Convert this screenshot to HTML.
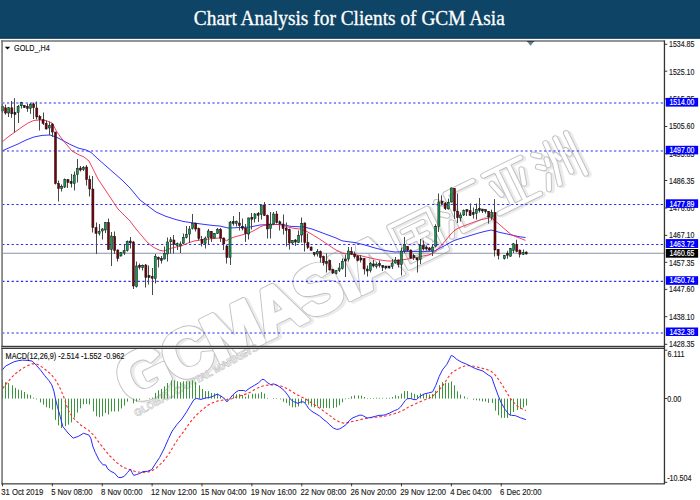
<!DOCTYPE html>
<html><head><meta charset="utf-8"><title>Chart Analysis for Clients of GCM Asia</title>
<style>
html,body{margin:0;padding:0;background:#fff;}
body{width:700px;height:500px;overflow:hidden;position:relative;font-family:"Liberation Sans",sans-serif;}
#hdr{position:absolute;left:0;top:0;width:700px;height:38.6px;background:#0e4465;}
svg{position:absolute;left:0;top:0;}
text{font-family:"Liberation Sans",sans-serif;}
</style></head>
<body>
<svg width="700" height="500" viewBox="0 0 700 500">
<rect x="0" y="0" width="700" height="500" fill="#fff"/>

<g transform="translate(130,407) rotate(-26)" style="font-family:'Liberation Sans',sans-serif;font-weight:bold">
  <text x="2" y="2" font-size="68" fill="none" stroke="#ebebeb" stroke-width="6" stroke-linejoin="round" letter-spacing="-2.5">GCMASIA</text>
  <text x="0" y="0" font-size="68" fill="#fff" stroke="#c2c2c2" stroke-width="5.2" stroke-linejoin="round" letter-spacing="-2.5">GCMASIA</text>
  <text x="0" y="0" font-size="68" fill="#fff" stroke="#fff" stroke-width="3.3" stroke-linejoin="round" letter-spacing="-2.5">GCMASIA</text>
  <g fill="none" stroke-linecap="round" stroke-linejoin="round">
    <path d="M312.0,-48.0 L354.0,-48.0 L354.0,-3.0 L312.0,-3.0 L312.0,-48.0 M322.0,-38.0 L344.0,-38.0 M323.0,-26.0 L343.0,-26.0 M320.0,-13.0 L346.0,-13.0 M333.0,-38.0 L333.0,-13.0 M339.0,-21.0 L342.0,-17.0 M365.0,-50.0 L370.0,-46.0 M364.0,-37.0 L369.0,-33.0 M364.0,-12.0 L370.0,-25.0 M407.0,-53.0 L377.0,-53.0 L377.0,-12.0 L408.0,-12.0 M419.0,-53.0 L460.0,-53.0 M433.0,-53.0 L433.0,-13.0 M446.0,-53.0 L446.0,-13.0 M423.0,-42.0 L427.0,-28.0 M456.0,-42.0 L452.0,-28.0 M417.0,-12.0 L462.0,-12.0 M473.0,-50.0 L478.0,-46.0 M472.0,-37.0 L477.0,-33.0 M472.0,-12.0 L478.0,-25.0 M489.0,-55.0 L489.0,-33.0 L484.0,-12.0 M500.0,-55.0 L500.0,-18.0 M512.0,-55.0 L512.0,-10.0 M493.0,-40.0 L495.0,-35.0 M504.0,-40.0 L506.0,-35.0 M483.0,-40.0 L482.0,-34.0" stroke="#ebebeb" stroke-width="6.5" transform="translate(2,2)"/>
    <path d="M312.0,-48.0 L354.0,-48.0 L354.0,-3.0 L312.0,-3.0 L312.0,-48.0 M322.0,-38.0 L344.0,-38.0 M323.0,-26.0 L343.0,-26.0 M320.0,-13.0 L346.0,-13.0 M333.0,-38.0 L333.0,-13.0 M339.0,-21.0 L342.0,-17.0 M365.0,-50.0 L370.0,-46.0 M364.0,-37.0 L369.0,-33.0 M364.0,-12.0 L370.0,-25.0 M407.0,-53.0 L377.0,-53.0 L377.0,-12.0 L408.0,-12.0 M419.0,-53.0 L460.0,-53.0 M433.0,-53.0 L433.0,-13.0 M446.0,-53.0 L446.0,-13.0 M423.0,-42.0 L427.0,-28.0 M456.0,-42.0 L452.0,-28.0 M417.0,-12.0 L462.0,-12.0 M473.0,-50.0 L478.0,-46.0 M472.0,-37.0 L477.0,-33.0 M472.0,-12.0 L478.0,-25.0 M489.0,-55.0 L489.0,-33.0 L484.0,-12.0 M500.0,-55.0 L500.0,-18.0 M512.0,-55.0 L512.0,-10.0 M493.0,-40.0 L495.0,-35.0 M504.0,-40.0 L506.0,-35.0 M483.0,-40.0 L482.0,-34.0" stroke="#c2c2c2" stroke-width="6.2"/>
    <path d="M312.0,-48.0 L354.0,-48.0 L354.0,-3.0 L312.0,-3.0 L312.0,-48.0 M322.0,-38.0 L344.0,-38.0 M323.0,-26.0 L343.0,-26.0 M320.0,-13.0 L346.0,-13.0 M333.0,-38.0 L333.0,-13.0 M339.0,-21.0 L342.0,-17.0 M365.0,-50.0 L370.0,-46.0 M364.0,-37.0 L369.0,-33.0 M364.0,-12.0 L370.0,-25.0 M407.0,-53.0 L377.0,-53.0 L377.0,-12.0 L408.0,-12.0 M419.0,-53.0 L460.0,-53.0 M433.0,-53.0 L433.0,-13.0 M446.0,-53.0 L446.0,-13.0 M423.0,-42.0 L427.0,-28.0 M456.0,-42.0 L452.0,-28.0 M417.0,-12.0 L462.0,-12.0 M473.0,-50.0 L478.0,-46.0 M472.0,-37.0 L477.0,-33.0 M472.0,-12.0 L478.0,-25.0 M489.0,-55.0 L489.0,-33.0 L484.0,-12.0 M500.0,-55.0 L500.0,-18.0 M512.0,-55.0 L512.0,-10.0 M493.0,-40.0 L495.0,-35.0 M504.0,-40.0 L506.0,-35.0 M483.0,-40.0 L482.0,-34.0" stroke="#fff" stroke-width="4.2"/>
  </g>
  <text x="0" y="0" transform="translate(1.5,11.8) rotate(-2.8)" font-size="10.2" fill="#fff" stroke="#c4c4c4" stroke-width="0.65" letter-spacing="-0.1">GLOBAL CAPITAL MARKETS</text>
</g>

<line x1="3" y1="103.0" x2="664" y2="103.0" stroke="#1c1cff" stroke-width="1.2" stroke-dasharray="2.2 2.47" stroke-dashoffset="0.71" opacity="0.95"/>
<line x1="3" y1="151.0" x2="664" y2="151.0" stroke="#1c1cff" stroke-width="1.2" stroke-dasharray="2.2 2.47" stroke-dashoffset="0.71" opacity="0.95"/>
<line x1="3" y1="204.5" x2="664" y2="204.5" stroke="#1c1cff" stroke-width="1.2" stroke-dasharray="2.2 2.47" stroke-dashoffset="0.71" opacity="0.95"/>
<line x1="3" y1="244.5" x2="664" y2="244.5" stroke="#1c1cff" stroke-width="1.2" stroke-dasharray="2.2 2.47" stroke-dashoffset="0.71" opacity="0.95"/>
<line x1="3" y1="281.3" x2="664" y2="281.3" stroke="#1c1cff" stroke-width="1.2" stroke-dasharray="2.2 2.47" stroke-dashoffset="0.71" opacity="0.95"/>
<line x1="3" y1="333.0" x2="664" y2="333.0" stroke="#1c1cff" stroke-width="1.2" stroke-dasharray="2.2 2.47" stroke-dashoffset="0.71" opacity="0.95"/>
<line x1="3" y1="253.3" x2="664" y2="253.3" stroke="#8793a6" stroke-width="1.1"/>
<polyline points="2.00,151.00 10.00,147.40 18.00,144.00 26.00,140.00 34.00,137.00 42.00,135.40 50.00,135.00 56.00,137.00 62.00,140.00 70.00,144.40 78.00,148.00 86.00,150.00 91.00,152.40 98.00,159.00 106.00,166.00 114.00,173.00 122.00,180.00 130.00,188.00 140.00,200.00 148.00,206.00 156.00,212.00 166.00,216.40 176.00,219.60 184.00,221.60 194.00,223.00 204.00,224.40 214.00,225.60 220.00,226.00 224.00,227.00 228.00,228.00 234.00,227.80 240.00,227.50 250.00,227.00 260.00,225.00 270.00,224.50 280.00,224.50 285.00,225.00 290.00,226.30 296.00,226.60 304.00,227.00 312.00,229.00 320.00,232.00 328.00,235.00 336.00,238.00 342.00,240.80 348.00,241.70 355.00,242.60 365.00,245.00 375.00,248.00 385.00,250.50 395.00,252.00 405.00,251.60 410.00,251.40 416.00,251.40 426.00,251.40 434.00,251.20 440.00,248.00 445.00,245.50 450.00,242.60 455.00,240.20 460.00,238.60 466.00,236.80 472.00,235.00 478.00,233.20 484.00,231.60 491.00,230.00 495.00,231.00 500.00,232.50 505.00,233.50 510.00,234.70 515.00,235.80 520.00,236.80 525.50,237.50" fill="none" stroke="#2828ff" stroke-width="0.95" stroke-linejoin="round"/>
<polyline points="2.00,142.00 8.00,137.00 15.00,132.00 22.00,127.00 28.00,123.00 34.00,120.40 40.00,120.00 46.00,120.60 52.00,123.00 57.00,132.00 62.00,139.00 67.00,145.00 72.00,151.00 78.00,154.40 84.00,157.00 89.00,161.00 93.00,169.00 98.00,179.00 104.00,188.00 112.00,200.00 118.00,209.00 124.00,215.00 130.00,221.00 136.00,229.00 142.00,236.00 148.00,243.00 154.00,247.60 160.00,250.40 164.00,251.00 170.00,248.60 176.00,247.00 182.00,245.60 188.00,243.00 194.00,241.00 200.00,240.00 206.00,239.40 212.00,238.60 220.00,238.00 224.00,239.20 226.50,240.80 230.00,238.60 236.00,236.50 240.00,235.50 245.00,234.00 250.00,232.50 255.00,230.00 260.00,227.00 264.00,225.40 270.00,225.00 276.00,224.40 282.00,225.00 288.00,227.00 294.00,228.40 300.00,229.00 306.00,231.00 312.00,234.40 318.00,238.00 324.00,242.00 330.00,246.00 336.00,250.00 342.00,253.00 348.00,254.00 354.00,254.60 360.00,255.50 366.00,257.00 372.00,258.40 380.00,260.00 388.00,261.00 394.00,261.00 400.00,260.00 406.00,259.30 412.00,258.30 418.00,257.20 424.00,255.80 430.00,254.60 434.00,252.50 440.00,246.80 446.00,240.00 450.00,235.00 454.00,230.80 458.00,228.30 464.00,225.80 472.00,222.80 480.00,220.00 486.00,218.60 490.00,217.80 492.00,217.80 495.00,221.00 498.00,223.20 502.00,226.80 506.00,230.20 511.00,234.40 515.00,236.40 520.00,238.20 525.50,240.40" fill="none" stroke="#ee2a48" stroke-width="0.9" stroke-linejoin="round"/>
<line x1="2.50" y1="104" x2="2.50" y2="113" stroke="#484848" stroke-width="1"/>
<rect x="1.48" y="106.3" width="2.05" height="4.70" fill="#119a52" stroke="#111" stroke-width="0.5"/>
<line x1="5.50" y1="104.6" x2="5.50" y2="114.6" stroke="#484848" stroke-width="1"/>
<rect x="4.59" y="107.8" width="2.05" height="5.20" fill="#780008" stroke="#111" stroke-width="0.5"/>
<line x1="8.50" y1="107" x2="8.50" y2="117" stroke="#484848" stroke-width="1"/>
<rect x="7.71" y="107.8" width="2.05" height="5.20" fill="#119a52" stroke="#111" stroke-width="0.5"/>
<line x1="11.50" y1="101" x2="11.50" y2="117.8" stroke="#484848" stroke-width="1"/>
<rect x="10.83" y="107.8" width="2.05" height="6.00" fill="#780008" stroke="#111" stroke-width="0.5"/>
<line x1="14.50" y1="98.2" x2="14.50" y2="132.6" stroke="#484848" stroke-width="1"/>
<rect x="13.94" y="112.4" width="2.05" height="2.00" fill="#222" stroke="#111" stroke-width="0.5"/>
<line x1="18.50" y1="105" x2="18.50" y2="123" stroke="#484848" stroke-width="1"/>
<rect x="17.06" y="106.2" width="2.05" height="6.40" fill="#119a52" stroke="#111" stroke-width="0.5"/>
<line x1="21.50" y1="101.8" x2="21.50" y2="108.6" stroke="#484848" stroke-width="1"/>
<rect x="20.18" y="102.6" width="2.05" height="3.20" fill="#119a52" stroke="#111" stroke-width="0.5"/>
<line x1="24.50" y1="105" x2="24.50" y2="107.8" stroke="#484848" stroke-width="1"/>
<rect x="23.29" y="105.6" width="2.05" height="2.00" fill="#222" stroke="#111" stroke-width="0.5"/>
<line x1="27.50" y1="103.8" x2="27.50" y2="111.8" stroke="#484848" stroke-width="1"/>
<rect x="26.41" y="106.4" width="2.05" height="2.00" fill="#780008" stroke="#111" stroke-width="0.5"/>
<line x1="30.50" y1="103" x2="30.50" y2="113.8" stroke="#484848" stroke-width="1"/>
<rect x="29.53" y="104.2" width="2.05" height="4.10" fill="#119a52" stroke="#111" stroke-width="0.5"/>
<line x1="33.50" y1="102.5" x2="33.50" y2="119" stroke="#484848" stroke-width="1"/>
<rect x="32.65" y="103.9" width="2.05" height="3.80" fill="#780008" stroke="#111" stroke-width="0.5"/>
<line x1="36.50" y1="101.5" x2="36.50" y2="119.5" stroke="#484848" stroke-width="1"/>
<rect x="35.76" y="108" width="2.05" height="9.00" fill="#780008" stroke="#111" stroke-width="0.5"/>
<line x1="39.50" y1="115" x2="39.50" y2="130.5" stroke="#484848" stroke-width="1"/>
<rect x="38.88" y="116.5" width="2.05" height="3.00" fill="#780008" stroke="#111" stroke-width="0.5"/>
<line x1="43.50" y1="112.5" x2="43.50" y2="125" stroke="#484848" stroke-width="1"/>
<rect x="42.00" y="119.5" width="2.05" height="4.00" fill="#780008" stroke="#111" stroke-width="0.5"/>
<line x1="46.50" y1="120.5" x2="46.50" y2="129.5" stroke="#484848" stroke-width="1"/>
<rect x="45.11" y="123.5" width="2.05" height="5.50" fill="#780008" stroke="#111" stroke-width="0.5"/>
<line x1="49.50" y1="121.5" x2="49.50" y2="135" stroke="#484848" stroke-width="1"/>
<rect x="48.23" y="125.5" width="2.05" height="2.50" fill="#119a52" stroke="#111" stroke-width="0.5"/>
<line x1="52.50" y1="123" x2="52.50" y2="137" stroke="#484848" stroke-width="1"/>
<rect x="51.35" y="124" width="2.05" height="8.00" fill="#780008" stroke="#111" stroke-width="0.5"/>
<line x1="55.50" y1="132" x2="55.50" y2="184.5" stroke="#484848" stroke-width="1"/>
<rect x="54.46" y="132" width="2.05" height="51.50" fill="#780008" stroke="#111" stroke-width="0.5"/>
<line x1="58.50" y1="180.5" x2="58.50" y2="201.5" stroke="#484848" stroke-width="1"/>
<rect x="57.58" y="183.5" width="2.05" height="5.00" fill="#780008" stroke="#111" stroke-width="0.5"/>
<line x1="61.50" y1="184.5" x2="61.50" y2="191.5" stroke="#484848" stroke-width="1"/>
<rect x="60.70" y="186.5" width="2.05" height="2.00" fill="#119a52" stroke="#111" stroke-width="0.5"/>
<line x1="64.50" y1="178.5" x2="64.50" y2="188" stroke="#484848" stroke-width="1"/>
<rect x="63.82" y="179.5" width="2.05" height="7.50" fill="#119a52" stroke="#111" stroke-width="0.5"/>
<line x1="67.50" y1="179" x2="67.50" y2="188" stroke="#484848" stroke-width="1"/>
<rect x="66.93" y="179.5" width="2.05" height="3.00" fill="#780008" stroke="#111" stroke-width="0.5"/>
<line x1="71.50" y1="174" x2="71.50" y2="187.5" stroke="#484848" stroke-width="1"/>
<rect x="70.05" y="181.5" width="2.05" height="2.00" fill="#222" stroke="#111" stroke-width="0.5"/>
<line x1="74.50" y1="171.5" x2="74.50" y2="190.5" stroke="#484848" stroke-width="1"/>
<rect x="73.17" y="175" width="2.05" height="8.50" fill="#119a52" stroke="#111" stroke-width="0.5"/>
<line x1="77.50" y1="159" x2="77.50" y2="182.5" stroke="#484848" stroke-width="1"/>
<rect x="76.28" y="168.5" width="2.05" height="6.00" fill="#119a52" stroke="#111" stroke-width="0.5"/>
<line x1="80.50" y1="166" x2="80.50" y2="171.5" stroke="#484848" stroke-width="1"/>
<rect x="79.40" y="168" width="2.05" height="2.00" fill="#780008" stroke="#111" stroke-width="0.5"/>
<line x1="83.50" y1="166" x2="83.50" y2="171" stroke="#484848" stroke-width="1"/>
<rect x="82.52" y="167.5" width="2.05" height="2.00" fill="#119a52" stroke="#111" stroke-width="0.5"/>
<line x1="86.50" y1="165" x2="86.50" y2="185.5" stroke="#484848" stroke-width="1"/>
<rect x="85.63" y="167" width="2.05" height="12.50" fill="#780008" stroke="#111" stroke-width="0.5"/>
<line x1="89.50" y1="175.5" x2="89.50" y2="196.5" stroke="#484848" stroke-width="1"/>
<rect x="88.75" y="179.5" width="2.05" height="9.50" fill="#780008" stroke="#111" stroke-width="0.5"/>
<line x1="92.50" y1="176" x2="92.50" y2="232.5" stroke="#484848" stroke-width="1"/>
<rect x="91.87" y="189" width="2.05" height="38.50" fill="#780008" stroke="#111" stroke-width="0.5"/>
<line x1="96.50" y1="222.5" x2="96.50" y2="254" stroke="#484848" stroke-width="1"/>
<rect x="94.98" y="227.5" width="2.05" height="6.00" fill="#780008" stroke="#111" stroke-width="0.5"/>
<line x1="99.50" y1="224" x2="99.50" y2="235.5" stroke="#484848" stroke-width="1"/>
<rect x="98.10" y="231.5" width="2.05" height="2.00" fill="#119a52" stroke="#111" stroke-width="0.5"/>
<line x1="102.50" y1="228" x2="102.50" y2="239.5" stroke="#484848" stroke-width="1"/>
<rect x="101.22" y="229" width="2.05" height="2.00" fill="#119a52" stroke="#111" stroke-width="0.5"/>
<line x1="105.50" y1="222" x2="105.50" y2="233" stroke="#484848" stroke-width="1"/>
<rect x="104.34" y="222.5" width="2.05" height="7.50" fill="#119a52" stroke="#111" stroke-width="0.5"/>
<line x1="108.50" y1="218.5" x2="108.50" y2="250" stroke="#484848" stroke-width="1"/>
<rect x="107.45" y="222.5" width="2.05" height="27.00" fill="#780008" stroke="#111" stroke-width="0.5"/>
<line x1="111.50" y1="232" x2="111.50" y2="266" stroke="#484848" stroke-width="1"/>
<rect x="110.57" y="236" width="2.05" height="13.50" fill="#119a52" stroke="#111" stroke-width="0.5"/>
<line x1="114.50" y1="231.5" x2="114.50" y2="254" stroke="#484848" stroke-width="1"/>
<rect x="113.69" y="236.5" width="2.05" height="14.00" fill="#780008" stroke="#111" stroke-width="0.5"/>
<line x1="117.50" y1="249.5" x2="117.50" y2="261.5" stroke="#484848" stroke-width="1"/>
<rect x="116.80" y="250" width="2.05" height="8.50" fill="#780008" stroke="#111" stroke-width="0.5"/>
<line x1="120.50" y1="252" x2="120.50" y2="256.5" stroke="#484848" stroke-width="1"/>
<rect x="119.92" y="252.5" width="2.05" height="3.50" fill="#119a52" stroke="#111" stroke-width="0.5"/>
<line x1="124.50" y1="245" x2="124.50" y2="255" stroke="#484848" stroke-width="1"/>
<rect x="123.04" y="250.5" width="2.05" height="2.50" fill="#119a52" stroke="#111" stroke-width="0.5"/>
<line x1="127.50" y1="240.5" x2="127.50" y2="251.5" stroke="#484848" stroke-width="1"/>
<rect x="126.16" y="241.5" width="2.05" height="9.00" fill="#119a52" stroke="#111" stroke-width="0.5"/>
<line x1="130.50" y1="237" x2="130.50" y2="248.5" stroke="#484848" stroke-width="1"/>
<rect x="129.27" y="241.0" width="2.05" height="2.00" fill="#222" stroke="#111" stroke-width="0.5"/>
<line x1="133.50" y1="241" x2="133.50" y2="289" stroke="#484848" stroke-width="1"/>
<rect x="132.39" y="242" width="2.05" height="44.00" fill="#780008" stroke="#111" stroke-width="0.5"/>
<line x1="136.50" y1="261.5" x2="136.50" y2="287.5" stroke="#484848" stroke-width="1"/>
<rect x="135.51" y="266" width="2.05" height="20.50" fill="#119a52" stroke="#111" stroke-width="0.5"/>
<line x1="139.50" y1="263.5" x2="139.50" y2="269.5" stroke="#484848" stroke-width="1"/>
<rect x="138.62" y="265.25" width="2.05" height="2.00" fill="#780008" stroke="#111" stroke-width="0.5"/>
<line x1="142.50" y1="264.5" x2="142.50" y2="270.5" stroke="#484848" stroke-width="1"/>
<rect x="141.74" y="265.35" width="2.05" height="2.00" fill="#119a52" stroke="#111" stroke-width="0.5"/>
<line x1="145.50" y1="264" x2="145.50" y2="287.5" stroke="#484848" stroke-width="1"/>
<rect x="144.86" y="265" width="2.05" height="12.50" fill="#780008" stroke="#111" stroke-width="0.5"/>
<line x1="148.50" y1="265.5" x2="148.50" y2="284.5" stroke="#484848" stroke-width="1"/>
<rect x="147.97" y="275.5" width="2.05" height="2.00" fill="#222" stroke="#111" stroke-width="0.5"/>
<line x1="152.50" y1="268" x2="152.50" y2="295" stroke="#484848" stroke-width="1"/>
<rect x="151.09" y="276.25" width="2.05" height="2.00" fill="#780008" stroke="#111" stroke-width="0.5"/>
<line x1="155.50" y1="254" x2="155.50" y2="283.5" stroke="#484848" stroke-width="1"/>
<rect x="154.21" y="256.5" width="2.05" height="22.00" fill="#119a52" stroke="#111" stroke-width="0.5"/>
<line x1="158.50" y1="256.5" x2="158.50" y2="267.5" stroke="#484848" stroke-width="1"/>
<rect x="157.32" y="257.25" width="2.05" height="2.00" fill="#780008" stroke="#111" stroke-width="0.5"/>
<line x1="161.50" y1="256" x2="161.50" y2="263.5" stroke="#484848" stroke-width="1"/>
<rect x="160.44" y="258.5" width="2.05" height="2.00" fill="#222" stroke="#111" stroke-width="0.5"/>
<line x1="164.50" y1="246.5" x2="164.50" y2="259.5" stroke="#484848" stroke-width="1"/>
<rect x="163.56" y="253.5" width="2.05" height="5.50" fill="#119a52" stroke="#111" stroke-width="0.5"/>
<line x1="167.50" y1="237.5" x2="167.50" y2="261.5" stroke="#484848" stroke-width="1"/>
<rect x="166.68" y="242" width="2.05" height="12.00" fill="#119a52" stroke="#111" stroke-width="0.5"/>
<line x1="170.50" y1="237" x2="170.50" y2="253.5" stroke="#484848" stroke-width="1"/>
<rect x="169.79" y="239.75" width="2.05" height="2.00" fill="#119a52" stroke="#111" stroke-width="0.5"/>
<line x1="173.50" y1="235" x2="173.50" y2="253.5" stroke="#484848" stroke-width="1"/>
<rect x="172.91" y="240" width="2.05" height="4.50" fill="#780008" stroke="#111" stroke-width="0.5"/>
<line x1="177.50" y1="242.5" x2="177.50" y2="250" stroke="#484848" stroke-width="1"/>
<rect x="176.03" y="243.5" width="2.05" height="2.00" fill="#119a52" stroke="#111" stroke-width="0.5"/>
<line x1="180.50" y1="241.5" x2="180.50" y2="253" stroke="#484848" stroke-width="1"/>
<rect x="179.14" y="244" width="2.05" height="2.00" fill="#119a52" stroke="#111" stroke-width="0.5"/>
<line x1="183.50" y1="233.5" x2="183.50" y2="244" stroke="#484848" stroke-width="1"/>
<rect x="182.26" y="237.5" width="2.05" height="6.00" fill="#119a52" stroke="#111" stroke-width="0.5"/>
<line x1="186.50" y1="226" x2="186.50" y2="238.5" stroke="#484848" stroke-width="1"/>
<rect x="185.38" y="234.5" width="2.05" height="3.00" fill="#119a52" stroke="#111" stroke-width="0.5"/>
<line x1="189.50" y1="226" x2="189.50" y2="243" stroke="#484848" stroke-width="1"/>
<rect x="188.50" y="229" width="2.05" height="5.00" fill="#119a52" stroke="#111" stroke-width="0.5"/>
<line x1="192.50" y1="214" x2="192.50" y2="229.5" stroke="#484848" stroke-width="1"/>
<rect x="191.61" y="223.5" width="2.05" height="5.00" fill="#119a52" stroke="#111" stroke-width="0.5"/>
<line x1="195.50" y1="222.5" x2="195.50" y2="231.5" stroke="#484848" stroke-width="1"/>
<rect x="194.73" y="223.5" width="2.05" height="5.50" fill="#780008" stroke="#111" stroke-width="0.5"/>
<line x1="198.50" y1="227.5" x2="198.50" y2="240.5" stroke="#484848" stroke-width="1"/>
<rect x="197.85" y="228.5" width="2.05" height="10.00" fill="#780008" stroke="#111" stroke-width="0.5"/>
<line x1="201.50" y1="236" x2="201.50" y2="246.5" stroke="#484848" stroke-width="1"/>
<rect x="200.96" y="239.5" width="2.05" height="4.00" fill="#780008" stroke="#111" stroke-width="0.5"/>
<line x1="205.50" y1="236.5" x2="205.50" y2="248.5" stroke="#484848" stroke-width="1"/>
<rect x="204.08" y="238" width="2.05" height="5.50" fill="#119a52" stroke="#111" stroke-width="0.5"/>
<line x1="208.50" y1="229" x2="208.50" y2="244.5" stroke="#484848" stroke-width="1"/>
<rect x="207.20" y="231" width="2.05" height="6.50" fill="#119a52" stroke="#111" stroke-width="0.5"/>
<line x1="211.50" y1="231" x2="211.50" y2="242" stroke="#484848" stroke-width="1"/>
<rect x="210.31" y="231.5" width="2.05" height="6.50" fill="#780008" stroke="#111" stroke-width="0.5"/>
<line x1="214.50" y1="233" x2="214.50" y2="238.5" stroke="#484848" stroke-width="1"/>
<rect x="213.43" y="233.5" width="2.05" height="4.50" fill="#119a52" stroke="#111" stroke-width="0.5"/>
<line x1="217.50" y1="228" x2="217.50" y2="234" stroke="#484848" stroke-width="1"/>
<rect x="216.55" y="229.5" width="2.05" height="4.00" fill="#119a52" stroke="#111" stroke-width="0.5"/>
<line x1="220.50" y1="228" x2="220.50" y2="242" stroke="#484848" stroke-width="1"/>
<rect x="219.66" y="229.5" width="2.05" height="8.50" fill="#780008" stroke="#111" stroke-width="0.5"/>
<line x1="223.50" y1="237.5" x2="223.50" y2="250" stroke="#484848" stroke-width="1"/>
<rect x="222.78" y="238" width="2.05" height="6.00" fill="#780008" stroke="#111" stroke-width="0.5"/>
<line x1="226.50" y1="245" x2="226.50" y2="263.5" stroke="#484848" stroke-width="1"/>
<rect x="225.90" y="246" width="2.05" height="11.50" fill="#780008" stroke="#111" stroke-width="0.5"/>
<line x1="230.50" y1="221" x2="230.50" y2="265" stroke="#484848" stroke-width="1"/>
<rect x="229.02" y="222" width="2.05" height="35.50" fill="#119a52" stroke="#111" stroke-width="0.5"/>
<line x1="233.50" y1="216" x2="233.50" y2="225.5" stroke="#484848" stroke-width="1"/>
<rect x="232.13" y="221.5" width="2.05" height="2.00" fill="#222" stroke="#111" stroke-width="0.5"/>
<line x1="236.50" y1="220.5" x2="236.50" y2="226.5" stroke="#484848" stroke-width="1"/>
<rect x="235.25" y="221.5" width="2.05" height="2.00" fill="#119a52" stroke="#111" stroke-width="0.5"/>
<line x1="239.50" y1="212" x2="239.50" y2="230.5" stroke="#484848" stroke-width="1"/>
<rect x="238.37" y="223" width="2.05" height="2.50" fill="#780008" stroke="#111" stroke-width="0.5"/>
<line x1="242.50" y1="218.5" x2="242.50" y2="230.5" stroke="#484848" stroke-width="1"/>
<rect x="241.48" y="226.3" width="2.05" height="2.00" fill="#222" stroke="#111" stroke-width="0.5"/>
<line x1="245.50" y1="224" x2="245.50" y2="242" stroke="#484848" stroke-width="1"/>
<rect x="244.60" y="228" width="2.05" height="5.50" fill="#780008" stroke="#111" stroke-width="0.5"/>
<line x1="248.50" y1="217.5" x2="248.50" y2="239.5" stroke="#484848" stroke-width="1"/>
<rect x="247.72" y="218" width="2.05" height="16.00" fill="#119a52" stroke="#111" stroke-width="0.5"/>
<line x1="251.50" y1="213" x2="251.50" y2="229.5" stroke="#484848" stroke-width="1"/>
<rect x="250.84" y="217.25" width="2.05" height="2.00" fill="#222" stroke="#111" stroke-width="0.5"/>
<line x1="254.50" y1="213" x2="254.50" y2="222.5" stroke="#484848" stroke-width="1"/>
<rect x="253.95" y="214" width="2.05" height="4.50" fill="#119a52" stroke="#111" stroke-width="0.5"/>
<line x1="258.50" y1="212" x2="258.50" y2="222" stroke="#484848" stroke-width="1"/>
<rect x="257.07" y="213.3" width="2.05" height="2.00" fill="#222" stroke="#111" stroke-width="0.5"/>
<line x1="261.50" y1="204.5" x2="261.50" y2="219.5" stroke="#484848" stroke-width="1"/>
<rect x="260.19" y="205" width="2.05" height="9.50" fill="#119a52" stroke="#111" stroke-width="0.5"/>
<line x1="264.50" y1="202" x2="264.50" y2="216" stroke="#484848" stroke-width="1"/>
<rect x="263.30" y="205" width="2.05" height="10.50" fill="#780008" stroke="#111" stroke-width="0.5"/>
<line x1="267.50" y1="214.5" x2="267.50" y2="238.5" stroke="#484848" stroke-width="1"/>
<rect x="266.42" y="215.5" width="2.05" height="13.50" fill="#780008" stroke="#111" stroke-width="0.5"/>
<line x1="270.50" y1="212" x2="270.50" y2="238.5" stroke="#484848" stroke-width="1"/>
<rect x="269.54" y="224" width="2.05" height="4.50" fill="#119a52" stroke="#111" stroke-width="0.5"/>
<line x1="273.50" y1="212" x2="273.50" y2="225" stroke="#484848" stroke-width="1"/>
<rect x="272.65" y="214" width="2.05" height="10.00" fill="#119a52" stroke="#111" stroke-width="0.5"/>
<line x1="276.50" y1="211" x2="276.50" y2="223.5" stroke="#484848" stroke-width="1"/>
<rect x="275.77" y="214" width="2.05" height="8.50" fill="#780008" stroke="#111" stroke-width="0.5"/>
<line x1="279.50" y1="220.5" x2="279.50" y2="230.5" stroke="#484848" stroke-width="1"/>
<rect x="278.89" y="221.75" width="2.05" height="2.00" fill="#222" stroke="#111" stroke-width="0.5"/>
<line x1="283.50" y1="214.5" x2="283.50" y2="234.5" stroke="#484848" stroke-width="1"/>
<rect x="282.00" y="224" width="2.05" height="4.50" fill="#780008" stroke="#111" stroke-width="0.5"/>
<line x1="286.50" y1="222.5" x2="286.50" y2="246.5" stroke="#484848" stroke-width="1"/>
<rect x="285.12" y="228" width="2.05" height="2.50" fill="#780008" stroke="#111" stroke-width="0.5"/>
<line x1="289.50" y1="228.5" x2="289.50" y2="249.5" stroke="#484848" stroke-width="1"/>
<rect x="288.24" y="229.5" width="2.05" height="13.50" fill="#780008" stroke="#111" stroke-width="0.5"/>
<line x1="292.50" y1="240" x2="292.50" y2="244" stroke="#484848" stroke-width="1"/>
<rect x="291.36" y="240.5" width="2.05" height="2.50" fill="#119a52" stroke="#111" stroke-width="0.5"/>
<line x1="295.50" y1="239" x2="295.50" y2="246" stroke="#484848" stroke-width="1"/>
<rect x="294.47" y="240.0" width="2.05" height="2.00" fill="#222" stroke="#111" stroke-width="0.5"/>
<line x1="298.50" y1="230.5" x2="298.50" y2="243" stroke="#484848" stroke-width="1"/>
<rect x="297.59" y="235.5" width="2.05" height="7.00" fill="#119a52" stroke="#111" stroke-width="0.5"/>
<line x1="301.50" y1="217.5" x2="301.50" y2="242.5" stroke="#484848" stroke-width="1"/>
<rect x="300.71" y="223.5" width="2.05" height="11.50" fill="#119a52" stroke="#111" stroke-width="0.5"/>
<line x1="304.50" y1="222.5" x2="304.50" y2="251.5" stroke="#484848" stroke-width="1"/>
<rect x="303.82" y="223" width="2.05" height="19.50" fill="#780008" stroke="#111" stroke-width="0.5"/>
<line x1="307.50" y1="233.5" x2="307.50" y2="249" stroke="#484848" stroke-width="1"/>
<rect x="306.94" y="242.5" width="2.05" height="5.00" fill="#780008" stroke="#111" stroke-width="0.5"/>
<line x1="311.50" y1="246.5" x2="311.50" y2="250.5" stroke="#484848" stroke-width="1"/>
<rect x="310.06" y="247" width="2.05" height="3.50" fill="#780008" stroke="#111" stroke-width="0.5"/>
<line x1="314.50" y1="252.5" x2="314.50" y2="256.5" stroke="#484848" stroke-width="1"/>
<rect x="313.18" y="252.5" width="2.05" height="2.00" fill="#222" stroke="#111" stroke-width="0.5"/>
<line x1="317.50" y1="249" x2="317.50" y2="256.5" stroke="#484848" stroke-width="1"/>
<rect x="316.29" y="251.5" width="2.05" height="2.50" fill="#119a52" stroke="#111" stroke-width="0.5"/>
<line x1="320.50" y1="250.5" x2="320.50" y2="262.5" stroke="#484848" stroke-width="1"/>
<rect x="319.41" y="251.5" width="2.05" height="6.00" fill="#780008" stroke="#111" stroke-width="0.5"/>
<line x1="323.50" y1="255.5" x2="323.50" y2="265.5" stroke="#484848" stroke-width="1"/>
<rect x="322.53" y="256.5" width="2.05" height="6.00" fill="#780008" stroke="#111" stroke-width="0.5"/>
<line x1="326.50" y1="253.5" x2="326.50" y2="272.5" stroke="#484848" stroke-width="1"/>
<rect x="325.64" y="261.5" width="2.05" height="2.00" fill="#222" stroke="#111" stroke-width="0.5"/>
<line x1="329.50" y1="259.5" x2="329.50" y2="270.5" stroke="#484848" stroke-width="1"/>
<rect x="328.76" y="260.5" width="2.05" height="9.50" fill="#780008" stroke="#111" stroke-width="0.5"/>
<line x1="332.50" y1="269" x2="332.50" y2="274" stroke="#484848" stroke-width="1"/>
<rect x="331.88" y="269.5" width="2.05" height="3.50" fill="#780008" stroke="#111" stroke-width="0.5"/>
<line x1="336.50" y1="270" x2="336.50" y2="274.5" stroke="#484848" stroke-width="1"/>
<rect x="334.99" y="270.5" width="2.05" height="3.00" fill="#119a52" stroke="#111" stroke-width="0.5"/>
<line x1="339.50" y1="263" x2="339.50" y2="272" stroke="#484848" stroke-width="1"/>
<rect x="338.11" y="268" width="2.05" height="2.50" fill="#119a52" stroke="#111" stroke-width="0.5"/>
<line x1="342.50" y1="258.5" x2="342.50" y2="269.5" stroke="#484848" stroke-width="1"/>
<rect x="341.23" y="261.5" width="2.05" height="7.00" fill="#119a52" stroke="#111" stroke-width="0.5"/>
<line x1="345.50" y1="254.5" x2="345.50" y2="277" stroke="#484848" stroke-width="1"/>
<rect x="344.35" y="259.0" width="2.05" height="2.00" fill="#222" stroke="#111" stroke-width="0.5"/>
<line x1="348.50" y1="247" x2="348.50" y2="261.5" stroke="#484848" stroke-width="1"/>
<rect x="347.46" y="251" width="2.05" height="8.00" fill="#119a52" stroke="#111" stroke-width="0.5"/>
<line x1="351.50" y1="247" x2="351.50" y2="255" stroke="#484848" stroke-width="1"/>
<rect x="350.58" y="251.5" width="2.05" height="2.50" fill="#780008" stroke="#111" stroke-width="0.5"/>
<line x1="354.50" y1="251.5" x2="354.50" y2="258.5" stroke="#484848" stroke-width="1"/>
<rect x="353.70" y="254" width="2.05" height="2.50" fill="#780008" stroke="#111" stroke-width="0.5"/>
<line x1="357.50" y1="255" x2="357.50" y2="261.5" stroke="#484848" stroke-width="1"/>
<rect x="356.81" y="256" width="2.05" height="4.50" fill="#780008" stroke="#111" stroke-width="0.5"/>
<line x1="360.50" y1="255" x2="360.50" y2="262.5" stroke="#484848" stroke-width="1"/>
<rect x="359.93" y="258.0" width="2.05" height="2.00" fill="#222" stroke="#111" stroke-width="0.5"/>
<line x1="364.50" y1="258" x2="364.50" y2="274.5" stroke="#484848" stroke-width="1"/>
<rect x="363.05" y="258.5" width="2.05" height="10.50" fill="#780008" stroke="#111" stroke-width="0.5"/>
<line x1="367.50" y1="265.5" x2="367.50" y2="276.5" stroke="#484848" stroke-width="1"/>
<rect x="366.16" y="269.0" width="2.05" height="2.00" fill="#222" stroke="#111" stroke-width="0.5"/>
<line x1="370.50" y1="262" x2="370.50" y2="272.5" stroke="#484848" stroke-width="1"/>
<rect x="369.28" y="263.5" width="2.05" height="7.00" fill="#119a52" stroke="#111" stroke-width="0.5"/>
<line x1="373.50" y1="260" x2="373.50" y2="267.5" stroke="#484848" stroke-width="1"/>
<rect x="372.40" y="264.0" width="2.05" height="2.00" fill="#222" stroke="#111" stroke-width="0.5"/>
<line x1="376.50" y1="262.5" x2="376.50" y2="268.5" stroke="#484848" stroke-width="1"/>
<rect x="375.52" y="264.25" width="2.05" height="2.00" fill="#119a52" stroke="#111" stroke-width="0.5"/>
<line x1="379.50" y1="260.5" x2="379.50" y2="267.5" stroke="#484848" stroke-width="1"/>
<rect x="378.63" y="263.5" width="2.05" height="2.00" fill="#222" stroke="#111" stroke-width="0.5"/>
<line x1="382.50" y1="265" x2="382.50" y2="271" stroke="#484848" stroke-width="1"/>
<rect x="381.75" y="265.5" width="2.05" height="2.00" fill="#222" stroke="#111" stroke-width="0.5"/>
<line x1="385.50" y1="266" x2="385.50" y2="269.5" stroke="#484848" stroke-width="1"/>
<rect x="384.87" y="266.0" width="2.05" height="2.00" fill="#222" stroke="#111" stroke-width="0.5"/>
<line x1="389.50" y1="266" x2="389.50" y2="268.5" stroke="#484848" stroke-width="1"/>
<rect x="387.98" y="266.0" width="2.05" height="2.00" fill="#222" stroke="#111" stroke-width="0.5"/>
<line x1="392.50" y1="259" x2="392.50" y2="269" stroke="#484848" stroke-width="1"/>
<rect x="391.10" y="263" width="2.05" height="3.50" fill="#119a52" stroke="#111" stroke-width="0.5"/>
<line x1="395.50" y1="257" x2="395.50" y2="263.5" stroke="#484848" stroke-width="1"/>
<rect x="394.22" y="260" width="2.05" height="3.00" fill="#119a52" stroke="#111" stroke-width="0.5"/>
<line x1="398.50" y1="259.5" x2="398.50" y2="267.5" stroke="#484848" stroke-width="1"/>
<rect x="397.33" y="260" width="2.05" height="4.50" fill="#780008" stroke="#111" stroke-width="0.5"/>
<line x1="401.50" y1="247.5" x2="401.50" y2="275.5" stroke="#484848" stroke-width="1"/>
<rect x="400.45" y="251" width="2.05" height="13.50" fill="#119a52" stroke="#111" stroke-width="0.5"/>
<line x1="404.50" y1="237" x2="404.50" y2="253" stroke="#484848" stroke-width="1"/>
<rect x="403.57" y="244.5" width="2.05" height="6.50" fill="#119a52" stroke="#111" stroke-width="0.5"/>
<line x1="407.50" y1="246" x2="407.50" y2="251" stroke="#484848" stroke-width="1"/>
<rect x="406.69" y="246.5" width="2.05" height="4.00" fill="#780008" stroke="#111" stroke-width="0.5"/>
<line x1="410.50" y1="249.5" x2="410.50" y2="259" stroke="#484848" stroke-width="1"/>
<rect x="409.80" y="250" width="2.05" height="8.00" fill="#780008" stroke="#111" stroke-width="0.5"/>
<line x1="413.50" y1="254" x2="413.50" y2="260" stroke="#484848" stroke-width="1"/>
<rect x="412.92" y="255.5" width="2.05" height="2.00" fill="#222" stroke="#111" stroke-width="0.5"/>
<line x1="417.50" y1="258" x2="417.50" y2="272.5" stroke="#484848" stroke-width="1"/>
<rect x="416.04" y="257.9" width="2.05" height="2.00" fill="#222" stroke="#111" stroke-width="0.5"/>
<line x1="420.50" y1="239" x2="420.50" y2="264" stroke="#484848" stroke-width="1"/>
<rect x="419.15" y="245.5" width="2.05" height="14.00" fill="#119a52" stroke="#111" stroke-width="0.5"/>
<line x1="423.50" y1="240.5" x2="423.50" y2="250.5" stroke="#484848" stroke-width="1"/>
<rect x="422.27" y="245.5" width="2.05" height="3.50" fill="#780008" stroke="#111" stroke-width="0.5"/>
<line x1="426.50" y1="245.5" x2="426.50" y2="250.5" stroke="#484848" stroke-width="1"/>
<rect x="425.39" y="247.0" width="2.05" height="2.00" fill="#222" stroke="#111" stroke-width="0.5"/>
<line x1="429.50" y1="247" x2="429.50" y2="251" stroke="#484848" stroke-width="1"/>
<rect x="428.50" y="248" width="2.05" height="2.00" fill="#780008" stroke="#111" stroke-width="0.5"/>
<line x1="432.50" y1="245" x2="432.50" y2="256" stroke="#484848" stroke-width="1"/>
<rect x="431.62" y="247" width="2.05" height="4.00" fill="#119a52" stroke="#111" stroke-width="0.5"/>
<line x1="435.50" y1="224.3" x2="435.50" y2="247.4" stroke="#484848" stroke-width="1"/>
<rect x="434.74" y="226.4" width="2.05" height="19.60" fill="#119a52" stroke="#111" stroke-width="0.5"/>
<line x1="438.50" y1="193.5" x2="438.50" y2="232" stroke="#484848" stroke-width="1"/>
<rect x="437.86" y="201.9" width="2.05" height="24.50" fill="#119a52" stroke="#111" stroke-width="0.5"/>
<line x1="441.50" y1="195.3" x2="441.50" y2="205.4" stroke="#484848" stroke-width="1"/>
<rect x="440.97" y="201.2" width="2.05" height="2.10" fill="#780008" stroke="#111" stroke-width="0.5"/>
<line x1="445.50" y1="202" x2="445.50" y2="210" stroke="#484848" stroke-width="1"/>
<rect x="444.09" y="203.4" width="2.05" height="5.30" fill="#780008" stroke="#111" stroke-width="0.5"/>
<line x1="448.50" y1="198.7" x2="448.50" y2="209.6" stroke="#484848" stroke-width="1"/>
<rect x="447.21" y="202.3" width="2.05" height="6.60" fill="#119a52" stroke="#111" stroke-width="0.5"/>
<line x1="451.50" y1="187.5" x2="451.50" y2="202.5" stroke="#484848" stroke-width="1"/>
<rect x="450.32" y="188" width="2.05" height="14.00" fill="#119a52" stroke="#111" stroke-width="0.5"/>
<line x1="454.50" y1="188" x2="454.50" y2="219" stroke="#484848" stroke-width="1"/>
<rect x="453.44" y="188.5" width="2.05" height="22.50" fill="#780008" stroke="#111" stroke-width="0.5"/>
<line x1="457.50" y1="193.5" x2="457.50" y2="223" stroke="#484848" stroke-width="1"/>
<rect x="456.56" y="211.3" width="2.05" height="6.40" fill="#780008" stroke="#111" stroke-width="0.5"/>
<line x1="460.50" y1="212.5" x2="460.50" y2="221.5" stroke="#484848" stroke-width="1"/>
<rect x="459.67" y="215" width="2.05" height="3.00" fill="#119a52" stroke="#111" stroke-width="0.5"/>
<line x1="463.50" y1="209.5" x2="463.50" y2="216" stroke="#484848" stroke-width="1"/>
<rect x="462.79" y="210.5" width="2.05" height="4.50" fill="#119a52" stroke="#111" stroke-width="0.5"/>
<line x1="466.50" y1="209.5" x2="466.50" y2="216" stroke="#484848" stroke-width="1"/>
<rect x="465.91" y="209.5" width="2.05" height="2.00" fill="#222" stroke="#111" stroke-width="0.5"/>
<line x1="470.50" y1="203.5" x2="470.50" y2="216" stroke="#484848" stroke-width="1"/>
<rect x="469.03" y="210.5" width="2.05" height="5.00" fill="#780008" stroke="#111" stroke-width="0.5"/>
<line x1="473.50" y1="207.5" x2="473.50" y2="218.5" stroke="#484848" stroke-width="1"/>
<rect x="472.14" y="212.5" width="2.05" height="2.00" fill="#222" stroke="#111" stroke-width="0.5"/>
<line x1="476.50" y1="203.5" x2="476.50" y2="219.5" stroke="#484848" stroke-width="1"/>
<rect x="475.26" y="209.6" width="2.05" height="3.70" fill="#119a52" stroke="#111" stroke-width="0.5"/>
<line x1="479.50" y1="198" x2="479.50" y2="212.5" stroke="#484848" stroke-width="1"/>
<rect x="478.38" y="208.5" width="2.05" height="2.00" fill="#222" stroke="#111" stroke-width="0.5"/>
<line x1="482.50" y1="209" x2="482.50" y2="213" stroke="#484848" stroke-width="1"/>
<rect x="481.49" y="209.0" width="2.05" height="2.00" fill="#222" stroke="#111" stroke-width="0.5"/>
<line x1="485.50" y1="209.5" x2="485.50" y2="213.5" stroke="#484848" stroke-width="1"/>
<rect x="484.61" y="209.5" width="2.05" height="2.00" fill="#222" stroke="#111" stroke-width="0.5"/>
<line x1="488.50" y1="211" x2="488.50" y2="223.6" stroke="#484848" stroke-width="1"/>
<rect x="487.73" y="211.6" width="2.05" height="5.40" fill="#780008" stroke="#111" stroke-width="0.5"/>
<line x1="491.50" y1="209.6" x2="491.50" y2="220" stroke="#484848" stroke-width="1"/>
<rect x="490.84" y="212.4" width="2.05" height="4.90" fill="#119a52" stroke="#111" stroke-width="0.5"/>
<line x1="494.50" y1="199.1" x2="494.50" y2="256.5" stroke="#484848" stroke-width="1"/>
<rect x="493.96" y="212.4" width="2.05" height="37.60" fill="#780008" stroke="#111" stroke-width="0.5"/>
<line x1="498.50" y1="249.2" x2="498.50" y2="259.5" stroke="#484848" stroke-width="1"/>
<rect x="497.08" y="249.5" width="2.05" height="6.00" fill="#780008" stroke="#111" stroke-width="0.5"/>
<line x1="504.50" y1="255" x2="504.50" y2="259.5" stroke="#484848" stroke-width="1"/>
<rect x="503.31" y="255.7" width="2.05" height="3.00" fill="#119a52" stroke="#111" stroke-width="0.5"/>
<line x1="507.50" y1="250.8" x2="507.50" y2="258.7" stroke="#484848" stroke-width="1"/>
<rect x="506.43" y="253.25" width="2.05" height="2.00" fill="#222" stroke="#111" stroke-width="0.5"/>
<line x1="510.50" y1="248" x2="510.50" y2="256.7" stroke="#484848" stroke-width="1"/>
<rect x="509.55" y="248.7" width="2.05" height="7.50" fill="#119a52" stroke="#111" stroke-width="0.5"/>
<line x1="513.50" y1="243" x2="513.50" y2="253" stroke="#484848" stroke-width="1"/>
<rect x="512.66" y="243.8" width="2.05" height="6.60" fill="#119a52" stroke="#111" stroke-width="0.5"/>
<line x1="516.50" y1="239.7" x2="516.50" y2="252.4" stroke="#484848" stroke-width="1"/>
<rect x="515.78" y="244.5" width="2.05" height="7.00" fill="#780008" stroke="#111" stroke-width="0.5"/>
<line x1="519.50" y1="249.5" x2="519.50" y2="257.5" stroke="#484848" stroke-width="1"/>
<rect x="518.90" y="250.1" width="2.05" height="4.10" fill="#780008" stroke="#111" stroke-width="0.5"/>
<line x1="523.50" y1="249.5" x2="523.50" y2="255" stroke="#484848" stroke-width="1"/>
<rect x="522.01" y="252.25" width="2.05" height="2.00" fill="#119a52" stroke="#111" stroke-width="0.5"/>
<line x1="526.50" y1="251.5" x2="526.50" y2="254.5" stroke="#484848" stroke-width="1"/>
<rect x="525.13" y="252.0" width="2.05" height="2.00" fill="#222" stroke="#111" stroke-width="0.5"/>
<line x1="2.50" y1="398.6" x2="2.50" y2="380.1" stroke="#3a963a" stroke-width="1.0"/>
<line x1="5.50" y1="398.6" x2="5.50" y2="382.1" stroke="#3a963a" stroke-width="1.0"/>
<line x1="8.50" y1="398.6" x2="8.50" y2="383" stroke="#3a963a" stroke-width="1.0"/>
<line x1="12.50" y1="398.6" x2="12.50" y2="385.3" stroke="#3a963a" stroke-width="1.0"/>
<line x1="15.50" y1="398.6" x2="15.50" y2="387.9" stroke="#3a963a" stroke-width="1.0"/>
<line x1="18.50" y1="398.6" x2="18.50" y2="389.6" stroke="#3a963a" stroke-width="1.0"/>
<line x1="21.50" y1="398.6" x2="21.50" y2="390.2" stroke="#3a963a" stroke-width="1.0"/>
<line x1="24.50" y1="398.6" x2="24.50" y2="392" stroke="#3a963a" stroke-width="1.0"/>
<line x1="27.50" y1="398.6" x2="27.50" y2="394.3" stroke="#3a963a" stroke-width="1.0"/>
<line x1="30.50" y1="398.6" x2="30.50" y2="395.1" stroke="#3a963a" stroke-width="1.0"/>
<line x1="33.50" y1="398.6" x2="33.50" y2="397.7" stroke="#3a963a" stroke-width="1.0"/>
<line x1="36.50" y1="398.6" x2="36.50" y2="399.4" stroke="#3a963a" stroke-width="1.0"/>
<line x1="40.50" y1="398.6" x2="40.50" y2="402.4" stroke="#3a963a" stroke-width="1.0"/>
<line x1="43.50" y1="398.6" x2="43.50" y2="404.6" stroke="#3a963a" stroke-width="1.0"/>
<line x1="46.50" y1="398.6" x2="46.50" y2="407.2" stroke="#3a963a" stroke-width="1.0"/>
<line x1="49.50" y1="398.6" x2="49.50" y2="408.2" stroke="#3a963a" stroke-width="1.0"/>
<line x1="52.50" y1="398.6" x2="52.50" y2="409.7" stroke="#3a963a" stroke-width="1.0"/>
<line x1="55.50" y1="398.6" x2="55.50" y2="419.9" stroke="#3a963a" stroke-width="1.0"/>
<line x1="58.50" y1="398.6" x2="58.50" y2="425.4" stroke="#3a963a" stroke-width="1.0"/>
<line x1="61.50" y1="398.6" x2="61.50" y2="428" stroke="#3a963a" stroke-width="1.0"/>
<line x1="65.50" y1="398.6" x2="65.50" y2="426.3" stroke="#3a963a" stroke-width="1.0"/>
<line x1="68.50" y1="398.6" x2="68.50" y2="424.6" stroke="#3a963a" stroke-width="1.0"/>
<line x1="71.50" y1="398.6" x2="71.50" y2="422.4" stroke="#3a963a" stroke-width="1.0"/>
<line x1="74.50" y1="398.6" x2="74.50" y2="417.7" stroke="#3a963a" stroke-width="1.0"/>
<line x1="77.50" y1="398.6" x2="77.50" y2="412.6" stroke="#3a963a" stroke-width="1.0"/>
<line x1="80.50" y1="398.6" x2="80.50" y2="408.3" stroke="#3a963a" stroke-width="1.0"/>
<line x1="83.50" y1="398.6" x2="83.50" y2="404.4" stroke="#3a963a" stroke-width="1.0"/>
<line x1="86.50" y1="398.6" x2="86.50" y2="404" stroke="#3a963a" stroke-width="1.0"/>
<line x1="89.50" y1="398.6" x2="89.50" y2="404.5" stroke="#3a963a" stroke-width="1.0"/>
<line x1="93.50" y1="398.6" x2="93.50" y2="411.5" stroke="#3a963a" stroke-width="1.0"/>
<line x1="96.50" y1="398.6" x2="96.50" y2="416.3" stroke="#3a963a" stroke-width="1.0"/>
<line x1="99.50" y1="398.6" x2="99.50" y2="417.2" stroke="#3a963a" stroke-width="1.0"/>
<line x1="102.50" y1="398.6" x2="102.50" y2="416.3" stroke="#3a963a" stroke-width="1.0"/>
<line x1="105.50" y1="398.6" x2="105.50" y2="413" stroke="#3a963a" stroke-width="1.0"/>
<line x1="108.50" y1="398.6" x2="108.50" y2="414.5" stroke="#3a963a" stroke-width="1.0"/>
<line x1="111.50" y1="398.6" x2="111.50" y2="411.5" stroke="#3a963a" stroke-width="1.0"/>
<line x1="114.50" y1="398.6" x2="114.50" y2="411.5" stroke="#3a963a" stroke-width="1.0"/>
<line x1="118.50" y1="398.6" x2="118.50" y2="411.5" stroke="#3a963a" stroke-width="1.0"/>
<line x1="121.50" y1="398.6" x2="121.50" y2="408.5" stroke="#3a963a" stroke-width="1.0"/>
<line x1="124.50" y1="398.6" x2="124.50" y2="405.5" stroke="#3a963a" stroke-width="1.0"/>
<line x1="127.50" y1="398.6" x2="127.50" y2="401.7" stroke="#3a963a" stroke-width="1.0"/>
<line x1="133.50" y1="398.6" x2="133.50" y2="403.4" stroke="#3a963a" stroke-width="1.0"/>
<line x1="136.50" y1="398.6" x2="136.50" y2="401.7" stroke="#3a963a" stroke-width="1.0"/>
<line x1="139.50" y1="398.6" x2="139.50" y2="399.8" stroke="#3a963a" stroke-width="1.0"/>
<line x1="149.50" y1="398.6" x2="149.50" y2="398" stroke="#3a963a" stroke-width="1.0"/>
<line x1="152.50" y1="398.6" x2="152.50" y2="397.6" stroke="#3a963a" stroke-width="1.0"/>
<line x1="155.50" y1="398.6" x2="155.50" y2="392.9" stroke="#3a963a" stroke-width="1.0"/>
<line x1="158.50" y1="398.6" x2="158.50" y2="390.3" stroke="#3a963a" stroke-width="1.0"/>
<line x1="161.50" y1="398.6" x2="161.50" y2="389" stroke="#3a963a" stroke-width="1.0"/>
<line x1="164.50" y1="398.6" x2="164.50" y2="386.4" stroke="#3a963a" stroke-width="1.0"/>
<line x1="167.50" y1="398.6" x2="167.50" y2="383" stroke="#3a963a" stroke-width="1.0"/>
<line x1="171.50" y1="398.6" x2="171.50" y2="380.4" stroke="#3a963a" stroke-width="1.0"/>
<line x1="174.50" y1="398.6" x2="174.50" y2="380.4" stroke="#3a963a" stroke-width="1.0"/>
<line x1="177.50" y1="398.6" x2="177.50" y2="381.3" stroke="#3a963a" stroke-width="1.0"/>
<line x1="180.50" y1="398.6" x2="180.50" y2="382.1" stroke="#3a963a" stroke-width="1.0"/>
<line x1="183.50" y1="398.6" x2="183.50" y2="381.3" stroke="#3a963a" stroke-width="1.0"/>
<line x1="186.50" y1="398.6" x2="186.50" y2="381.3" stroke="#3a963a" stroke-width="1.0"/>
<line x1="189.50" y1="398.6" x2="189.50" y2="381.3" stroke="#3a963a" stroke-width="1.0"/>
<line x1="192.50" y1="398.6" x2="192.50" y2="380.4" stroke="#3a963a" stroke-width="1.0"/>
<line x1="195.50" y1="398.6" x2="195.50" y2="382.1" stroke="#3a963a" stroke-width="1.0"/>
<line x1="199.50" y1="398.6" x2="199.50" y2="385.3" stroke="#3a963a" stroke-width="1.0"/>
<line x1="202.50" y1="398.6" x2="202.50" y2="389" stroke="#3a963a" stroke-width="1.0"/>
<line x1="205.50" y1="398.6" x2="205.50" y2="391.1" stroke="#3a963a" stroke-width="1.0"/>
<line x1="208.50" y1="398.6" x2="208.50" y2="391.1" stroke="#3a963a" stroke-width="1.0"/>
<line x1="211.50" y1="398.6" x2="211.50" y2="392.9" stroke="#3a963a" stroke-width="1.0"/>
<line x1="214.50" y1="398.6" x2="214.50" y2="393.3" stroke="#3a963a" stroke-width="1.0"/>
<line x1="217.50" y1="398.6" x2="217.50" y2="393.7" stroke="#3a963a" stroke-width="1.0"/>
<line x1="220.50" y1="398.6" x2="220.50" y2="395.9" stroke="#3a963a" stroke-width="1.0"/>
<line x1="224.50" y1="398.6" x2="224.50" y2="397.8" stroke="#3a963a" stroke-width="1.0"/>
<line x1="227.50" y1="398.6" x2="227.50" y2="400.4" stroke="#3a963a" stroke-width="1.0"/>
<line x1="233.50" y1="398.6" x2="233.50" y2="394.6" stroke="#3a963a" stroke-width="1.0"/>
<line x1="236.50" y1="398.6" x2="236.50" y2="394.1" stroke="#3a963a" stroke-width="1.0"/>
<line x1="239.50" y1="398.6" x2="239.50" y2="394.1" stroke="#3a963a" stroke-width="1.0"/>
<line x1="242.50" y1="398.6" x2="242.50" y2="395" stroke="#3a963a" stroke-width="1.0"/>
<line x1="245.50" y1="398.6" x2="245.50" y2="396.7" stroke="#3a963a" stroke-width="1.0"/>
<line x1="248.50" y1="398.6" x2="248.50" y2="394.6" stroke="#3a963a" stroke-width="1.0"/>
<line x1="252.50" y1="398.6" x2="252.50" y2="393.8" stroke="#3a963a" stroke-width="1.0"/>
<line x1="255.50" y1="398.6" x2="255.50" y2="393.6" stroke="#3a963a" stroke-width="1.0"/>
<line x1="258.50" y1="398.6" x2="258.50" y2="393.6" stroke="#3a963a" stroke-width="1.0"/>
<line x1="261.50" y1="398.6" x2="261.50" y2="392.1" stroke="#3a963a" stroke-width="1.0"/>
<line x1="264.50" y1="398.6" x2="264.50" y2="393.6" stroke="#3a963a" stroke-width="1.0"/>
<line x1="267.50" y1="398.6" x2="267.50" y2="397.9" stroke="#3a963a" stroke-width="1.0"/>
<line x1="273.50" y1="398.6" x2="273.50" y2="398" stroke="#3a963a" stroke-width="1.0"/>
<line x1="276.50" y1="398.6" x2="276.50" y2="398" stroke="#3a963a" stroke-width="1.0"/>
<line x1="280.50" y1="398.6" x2="280.50" y2="399.40000000000003" stroke="#3a963a" stroke-width="1.0"/>
<line x1="283.50" y1="398.6" x2="283.50" y2="401.7" stroke="#3a963a" stroke-width="1.0"/>
<line x1="286.50" y1="398.6" x2="286.50" y2="403" stroke="#3a963a" stroke-width="1.0"/>
<line x1="289.50" y1="398.6" x2="289.50" y2="405.6" stroke="#3a963a" stroke-width="1.0"/>
<line x1="292.50" y1="398.6" x2="292.50" y2="407.3" stroke="#3a963a" stroke-width="1.0"/>
<line x1="295.50" y1="398.6" x2="295.50" y2="407.3" stroke="#3a963a" stroke-width="1.0"/>
<line x1="298.50" y1="398.6" x2="298.50" y2="406.4" stroke="#3a963a" stroke-width="1.0"/>
<line x1="301.50" y1="398.6" x2="301.50" y2="403.4" stroke="#3a963a" stroke-width="1.0"/>
<line x1="305.50" y1="398.6" x2="305.50" y2="403" stroke="#3a963a" stroke-width="1.0"/>
<line x1="308.50" y1="398.6" x2="308.50" y2="404.6" stroke="#3a963a" stroke-width="1.0"/>
<line x1="311.50" y1="398.6" x2="311.50" y2="406.6" stroke="#3a963a" stroke-width="1.0"/>
<line x1="314.50" y1="398.6" x2="314.50" y2="407.4" stroke="#3a963a" stroke-width="1.0"/>
<line x1="317.50" y1="398.6" x2="317.50" y2="406.6" stroke="#3a963a" stroke-width="1.0"/>
<line x1="320.50" y1="398.6" x2="320.50" y2="407.9" stroke="#3a963a" stroke-width="1.0"/>
<line x1="323.50" y1="398.6" x2="323.50" y2="408.3" stroke="#3a963a" stroke-width="1.0"/>
<line x1="326.50" y1="398.6" x2="326.50" y2="407.9" stroke="#3a963a" stroke-width="1.0"/>
<line x1="329.50" y1="398.6" x2="329.50" y2="408.3" stroke="#3a963a" stroke-width="1.0"/>
<line x1="333.50" y1="398.6" x2="333.50" y2="407.9" stroke="#3a963a" stroke-width="1.0"/>
<line x1="336.50" y1="398.6" x2="336.50" y2="407.4" stroke="#3a963a" stroke-width="1.0"/>
<line x1="339.50" y1="398.6" x2="339.50" y2="405.3" stroke="#3a963a" stroke-width="1.0"/>
<line x1="342.50" y1="398.6" x2="342.50" y2="402.3" stroke="#3a963a" stroke-width="1.0"/>
<line x1="345.50" y1="398.6" x2="345.50" y2="399.3" stroke="#3a963a" stroke-width="1.0"/>
<line x1="348.50" y1="398.6" x2="348.50" y2="398" stroke="#3a963a" stroke-width="1.0"/>
<line x1="351.50" y1="398.6" x2="351.50" y2="396.3" stroke="#3a963a" stroke-width="1.0"/>
<line x1="354.50" y1="398.6" x2="354.50" y2="395.4" stroke="#3a963a" stroke-width="1.0"/>
<line x1="358.50" y1="398.6" x2="358.50" y2="395.4" stroke="#3a963a" stroke-width="1.0"/>
<line x1="361.50" y1="398.6" x2="361.50" y2="395.6" stroke="#3a963a" stroke-width="1.0"/>
<line x1="364.50" y1="398.6" x2="364.50" y2="397" stroke="#3a963a" stroke-width="1.0"/>
<line x1="367.50" y1="398.6" x2="367.50" y2="398" stroke="#3a963a" stroke-width="1.0"/>
<line x1="370.50" y1="398.6" x2="370.50" y2="398" stroke="#3a963a" stroke-width="1.0"/>
<line x1="373.50" y1="398.6" x2="373.50" y2="398" stroke="#3a963a" stroke-width="1.0"/>
<line x1="376.50" y1="398.6" x2="376.50" y2="397.8" stroke="#3a963a" stroke-width="1.0"/>
<line x1="379.50" y1="398.6" x2="379.50" y2="397.8" stroke="#3a963a" stroke-width="1.0"/>
<line x1="382.50" y1="398.6" x2="382.50" y2="397.8" stroke="#3a963a" stroke-width="1.0"/>
<line x1="386.50" y1="398.6" x2="386.50" y2="397.8" stroke="#3a963a" stroke-width="1.0"/>
<line x1="389.50" y1="398.6" x2="389.50" y2="397.8" stroke="#3a963a" stroke-width="1.0"/>
<line x1="392.50" y1="398.6" x2="392.50" y2="397" stroke="#3a963a" stroke-width="1.0"/>
<line x1="395.50" y1="398.6" x2="395.50" y2="395.3" stroke="#3a963a" stroke-width="1.0"/>
<line x1="398.50" y1="398.6" x2="398.50" y2="396.1" stroke="#3a963a" stroke-width="1.0"/>
<line x1="401.50" y1="398.6" x2="401.50" y2="393.6" stroke="#3a963a" stroke-width="1.0"/>
<line x1="404.50" y1="398.6" x2="404.50" y2="391" stroke="#3a963a" stroke-width="1.0"/>
<line x1="407.50" y1="398.6" x2="407.50" y2="391" stroke="#3a963a" stroke-width="1.0"/>
<line x1="411.50" y1="398.6" x2="411.50" y2="392.7" stroke="#3a963a" stroke-width="1.0"/>
<line x1="414.50" y1="398.6" x2="414.50" y2="394" stroke="#3a963a" stroke-width="1.0"/>
<line x1="417.50" y1="398.6" x2="417.50" y2="395" stroke="#3a963a" stroke-width="1.0"/>
<line x1="420.50" y1="398.6" x2="420.50" y2="393.5" stroke="#3a963a" stroke-width="1.0"/>
<line x1="423.50" y1="398.6" x2="423.50" y2="394.1" stroke="#3a963a" stroke-width="1.0"/>
<line x1="426.50" y1="398.6" x2="426.50" y2="394.1" stroke="#3a963a" stroke-width="1.0"/>
<line x1="429.50" y1="398.6" x2="429.50" y2="394.6" stroke="#3a963a" stroke-width="1.0"/>
<line x1="432.50" y1="398.6" x2="432.50" y2="394.1" stroke="#3a963a" stroke-width="1.0"/>
<line x1="435.50" y1="398.6" x2="435.50" y2="390.7" stroke="#3a963a" stroke-width="1.0"/>
<line x1="439.50" y1="398.6" x2="439.50" y2="385.2" stroke="#3a963a" stroke-width="1.0"/>
<line x1="442.50" y1="398.6" x2="442.50" y2="382.2" stroke="#3a963a" stroke-width="1.0"/>
<line x1="445.50" y1="398.6" x2="445.50" y2="382.8" stroke="#3a963a" stroke-width="1.0"/>
<line x1="448.50" y1="398.6" x2="448.50" y2="382.8" stroke="#3a963a" stroke-width="1.0"/>
<line x1="451.50" y1="398.6" x2="451.50" y2="381.4" stroke="#3a963a" stroke-width="1.0"/>
<line x1="454.50" y1="398.6" x2="454.50" y2="385.2" stroke="#3a963a" stroke-width="1.0"/>
<line x1="457.50" y1="398.6" x2="457.50" y2="391.3" stroke="#3a963a" stroke-width="1.0"/>
<line x1="460.50" y1="398.6" x2="460.50" y2="394.6" stroke="#3a963a" stroke-width="1.0"/>
<line x1="464.50" y1="398.6" x2="464.50" y2="396.3" stroke="#3a963a" stroke-width="1.0"/>
<line x1="467.50" y1="398.6" x2="467.50" y2="397.9" stroke="#3a963a" stroke-width="1.0"/>
<line x1="473.50" y1="398.6" x2="473.50" y2="399.7" stroke="#3a963a" stroke-width="1.0"/>
<line x1="476.50" y1="398.6" x2="476.50" y2="400.3" stroke="#3a963a" stroke-width="1.0"/>
<line x1="479.50" y1="398.6" x2="479.50" y2="400.6" stroke="#3a963a" stroke-width="1.0"/>
<line x1="482.50" y1="398.6" x2="482.50" y2="401.4" stroke="#3a963a" stroke-width="1.0"/>
<line x1="485.50" y1="398.6" x2="485.50" y2="401.6" stroke="#3a963a" stroke-width="1.0"/>
<line x1="488.50" y1="398.6" x2="488.50" y2="402.9" stroke="#3a963a" stroke-width="1.0"/>
<line x1="492.50" y1="398.6" x2="492.50" y2="402.9" stroke="#3a963a" stroke-width="1.0"/>
<line x1="495.50" y1="398.6" x2="495.50" y2="410.7" stroke="#3a963a" stroke-width="1.0"/>
<line x1="498.50" y1="398.6" x2="498.50" y2="415.3" stroke="#3a963a" stroke-width="1.0"/>
<line x1="501.50" y1="398.6" x2="501.50" y2="417.9" stroke="#3a963a" stroke-width="1.0"/>
<line x1="504.50" y1="398.6" x2="504.50" y2="417.9" stroke="#3a963a" stroke-width="1.0"/>
<line x1="507.50" y1="398.6" x2="507.50" y2="417.9" stroke="#3a963a" stroke-width="1.0"/>
<line x1="510.50" y1="398.6" x2="510.50" y2="415.3" stroke="#3a963a" stroke-width="1.0"/>
<line x1="513.50" y1="398.6" x2="513.50" y2="412" stroke="#3a963a" stroke-width="1.0"/>
<line x1="517.50" y1="398.6" x2="517.50" y2="410.1" stroke="#3a963a" stroke-width="1.0"/>
<line x1="520.50" y1="398.6" x2="520.50" y2="408.8" stroke="#3a963a" stroke-width="1.0"/>
<line x1="523.50" y1="398.6" x2="523.50" y2="407.5" stroke="#3a963a" stroke-width="1.0"/>
<line x1="526.50" y1="398.6" x2="526.50" y2="405.5" stroke="#3a963a" stroke-width="1.0"/>
<polyline points="2.80,388.40 7.00,382.80 11.20,377.90 15.40,373.70 21.00,369.50 26.60,366.00 32.20,363.90 36.40,363.90 40.60,366.00 46.20,370.20 51.80,375.10 56.00,380.70 60.20,388.40 63.70,396.80 68.00,409.50 72.00,416.50 75.20,420.00 81.00,425.20 88.80,430.40 94.00,435.60 99.20,442.80 104.40,449.30 109.60,455.80 111.10,457.00 116.60,462.50 123.20,467.40 129.80,469.60 136.40,471.90 143.00,472.40 150.70,471.60 156.30,468.00 162.90,461.90 169.80,452.60 174.60,444.20 179.40,437.00 184.20,431.00 189.00,423.80 193.80,417.80 198.60,413.00 203.40,408.80 207.90,405.30 213.00,402.70 218.10,400.90 223.30,400.00 227.60,399.60 231.80,398.70 236.10,397.10 241.30,395.40 246.40,393.90 250.70,392.00 254.30,389.70 259.40,387.10 264.60,385.40 269.70,385.00 275.70,385.00 281.70,386.30 286.80,388.40 291.10,391.00 296.30,394.40 301.40,397.00 305.00,398.60 309.30,401.40 315.30,405.30 320.40,408.70 325.60,412.60 329.90,415.60 334.10,419.00 339.30,422.00 344.40,423.30 348.70,422.40 353.80,421.10 358.10,420.30 363.30,418.80 371.10,417.60 377.10,417.10 382.30,416.50 388.30,415.40 394.30,413.70 398.60,412.20 403.70,409.90 408.80,406.90 414.00,404.50 417.20,402.90 423.80,400.10 431.50,397.40 437.00,391.90 442.50,386.30 448.00,377.50 452.40,372.00 459.10,368.20 464.60,366.00 470.00,365.50 477.80,367.20 485.60,369.10 490.80,371.10 494.70,374.30 498.60,379.50 502.50,385.40 506.40,391.90 510.30,398.40 514.20,402.90 518.10,406.80 522.00,408.80 525.90,410.50" fill="none" stroke="#ff2a2a" stroke-width="1.1" stroke-dasharray="2.6 2.2"/>
<polyline points="2.10,370.20 5.60,366.00 9.80,363.90 14.00,361.80 18.20,360.70 22.40,360.10 28.00,360.40 32.20,361.10 36.40,365.30 40.60,370.20 44.80,375.80 49.00,380.70 51.80,384.90 53.90,391.20 55.30,398.20 57.40,406.60 60.20,416.40 62.80,426.50 68.00,433.00 73.20,438.20 78.40,436.30 83.60,433.30 88.80,435.00 90.80,438.20 92.70,446.00 95.30,452.50 99.20,460.30 103.10,464.90 105.70,464.90 107.70,468.80 110.90,471.40 114.40,473.00 118.30,477.40 121.00,477.60 124.30,476.30 127.60,472.40 130.40,469.10 132.00,472.40 133.70,475.40 136.40,474.60 139.70,473.50 143.00,471.60 147.40,471.30 151.80,469.60 155.20,464.10 159.60,457.50 164.00,449.00 168.60,438.50 172.20,431.00 177.00,424.40 181.80,419.00 186.60,411.80 190.20,405.80 193.80,399.80 196.20,398.40 201.00,399.40 205.30,398.00 208.70,397.60 212.10,396.70 217.30,394.10 220.70,395.90 224.10,398.40 226.90,401.90 229.30,399.30 232.70,395.00 236.10,392.00 238.70,390.50 243.80,390.50 245.60,391.30 249.00,388.60 254.30,385.40 258.60,382.90 262.00,379.40 264.10,379.60 267.10,382.40 270.60,384.60 273.60,383.90 276.60,385.00 280.00,387.10 284.30,390.60 287.70,394.90 290.30,399.10 293.70,401.70 298.00,403.40 301.40,401.70 304.00,402.10 306.60,405.10 308.40,408.30 311.90,411.30 316.10,413.90 319.60,416.00 323.90,419.80 326.40,421.60 329.90,425.00 333.30,428.00 336.70,429.40 339.30,429.00 342.70,427.10 346.10,424.60 349.60,420.30 353.00,417.70 356.40,416.40 359.80,415.10 362.40,415.30 365.00,416.90 367.30,418.00 371.10,417.40 375.40,416.30 378.90,415.40 383.10,415.20 385.70,414.60 389.10,413.30 394.30,410.70 397.70,409.40 400.30,407.30 402.80,403.90 405.40,400.40 407.10,398.70 410.60,398.50 414.00,399.60 416.60,399.60 419.40,396.80 423.80,394.10 428.20,393.00 432.60,391.90 435.90,385.20 439.20,376.40 442.50,369.80 446.90,364.30 451.30,355.50 453.00,356.10 456.80,359.40 461.30,362.10 466.80,364.30 470.00,365.90 475.20,368.50 483.00,371.10 488.20,375.00 491.50,376.90 494.70,386.00 498.00,395.10 501.20,402.90 505.10,409.40 509.00,414.60 511.60,415.30 515.50,415.70 520.70,417.90 525.90,419.60" fill="none" stroke="#2828ff" stroke-width="1.0" stroke-linejoin="round"/>
<rect x="1.3" y="40.2" width="663.5" height="1.6" fill="#7a7a7a"/>
<rect x="1.3" y="40.2" width="1.5" height="443.8" fill="#6e6e6e"/>
<rect x="1.3" y="345.8" width="663.5" height="1.2" fill="#3a3a3a"/>
<rect x="1.3" y="347.0" width="663.5" height="0.9" fill="#b0b0b0"/>
<rect x="1.3" y="347.9" width="663.5" height="1.1" fill="#3a3a3a"/>
<rect x="1.3" y="483.0" width="663.5" height="1.6" fill="#6a6a6a"/>
<rect x="663.8" y="40.5" width="1.3" height="443.5" fill="#333"/>
<path d="M527,41.3 L534.2,41.3 L530.5,45.8 Z" fill="#6a7b90"/>
<rect x="527" y="41" width="7.2" height="0.9" fill="#2a3440"/>
<line x1="665" y1="44.3" x2="667.3" y2="44.3" stroke="#222" stroke-width="0.9"/>
<text x="669.00" y="47.10" font-size="8.7" fill="#1a1a1a" stroke="#1a1a1a" stroke-width="0.15" textLength="25.40" lengthAdjust="spacingAndGlyphs" text-anchor="start" >1534.85</text>
<line x1="665" y1="71.2" x2="667.3" y2="71.2" stroke="#222" stroke-width="0.9"/>
<text x="669.00" y="74.80" font-size="8.7" fill="#1a1a1a" stroke="#1a1a1a" stroke-width="0.15" textLength="25.40" lengthAdjust="spacingAndGlyphs" text-anchor="start" >1525.10</text>
<line x1="665" y1="98.9" x2="667.3" y2="98.9" stroke="#222" stroke-width="0.9"/>
<text x="669.00" y="101.90" font-size="8.7" fill="#1a1a1a" stroke="#1a1a1a" stroke-width="0.15" textLength="25.40" lengthAdjust="spacingAndGlyphs" text-anchor="start" >1515.35</text>
<line x1="665" y1="126.5" x2="667.3" y2="126.5" stroke="#222" stroke-width="0.9"/>
<text x="669.00" y="129.10" font-size="8.7" fill="#1a1a1a" stroke="#1a1a1a" stroke-width="0.15" textLength="25.40" lengthAdjust="spacingAndGlyphs" text-anchor="start" >1505.60</text>
<line x1="665" y1="153.7" x2="667.3" y2="153.7" stroke="#222" stroke-width="0.9"/>
<text x="669.00" y="156.70" font-size="8.7" fill="#1a1a1a" stroke="#1a1a1a" stroke-width="0.15" textLength="25.40" lengthAdjust="spacingAndGlyphs" text-anchor="start" >1495.85</text>
<line x1="665" y1="180.5" x2="667.3" y2="180.5" stroke="#222" stroke-width="0.9"/>
<text x="669.00" y="183.90" font-size="8.7" fill="#1a1a1a" stroke="#1a1a1a" stroke-width="0.15" textLength="25.40" lengthAdjust="spacingAndGlyphs" text-anchor="start" >1486.35</text>
<line x1="665" y1="208.0" x2="667.3" y2="208.0" stroke="#222" stroke-width="0.9"/>
<text x="669.00" y="211.00" font-size="8.7" fill="#1a1a1a" stroke="#1a1a1a" stroke-width="0.15" textLength="25.40" lengthAdjust="spacingAndGlyphs" text-anchor="start" >1476.60</text>
<line x1="665" y1="235.4" x2="667.3" y2="235.4" stroke="#222" stroke-width="0.9"/>
<text x="669.00" y="238.10" font-size="8.7" fill="#1a1a1a" stroke="#1a1a1a" stroke-width="0.15" textLength="25.40" lengthAdjust="spacingAndGlyphs" text-anchor="start" >1467.10</text>
<line x1="665" y1="262.3" x2="667.3" y2="262.3" stroke="#222" stroke-width="0.9"/>
<text x="669.00" y="265.70" font-size="8.7" fill="#1a1a1a" stroke="#1a1a1a" stroke-width="0.15" textLength="25.40" lengthAdjust="spacingAndGlyphs" text-anchor="start" >1457.35</text>
<line x1="665" y1="289.4" x2="667.3" y2="289.4" stroke="#222" stroke-width="0.9"/>
<text x="669.00" y="292.40" font-size="8.7" fill="#1a1a1a" stroke="#1a1a1a" stroke-width="0.15" textLength="25.40" lengthAdjust="spacingAndGlyphs" text-anchor="start" >1447.60</text>
<line x1="665" y1="316.7" x2="667.3" y2="316.7" stroke="#222" stroke-width="0.9"/>
<text x="669.00" y="319.70" font-size="8.7" fill="#1a1a1a" stroke="#1a1a1a" stroke-width="0.15" textLength="25.40" lengthAdjust="spacingAndGlyphs" text-anchor="start" >1438.10</text>
<line x1="665" y1="344.3" x2="667.3" y2="344.3" stroke="#222" stroke-width="0.9"/>
<text x="669.00" y="347.10" font-size="8.7" fill="#1a1a1a" stroke="#1a1a1a" stroke-width="0.15" textLength="25.40" lengthAdjust="spacingAndGlyphs" text-anchor="start" >1428.35</text>
<rect x="665.8" y="97.9" width="32.3" height="8.70" fill="#0000ff"/>
<text x="669.40" y="105.25" font-size="8.7" fill="#fff" stroke="#fff" stroke-width="0.15" textLength="25.00" lengthAdjust="spacingAndGlyphs" text-anchor="start" >1514.00</text>
<rect x="665.8" y="145.8" width="32.3" height="8.60" fill="#0000ff"/>
<text x="669.40" y="153.05" font-size="8.7" fill="#fff" stroke="#fff" stroke-width="0.15" textLength="25.00" lengthAdjust="spacingAndGlyphs" text-anchor="start" >1497.00</text>
<rect x="665.8" y="199.3" width="32.3" height="8.60" fill="#0000ff"/>
<text x="669.40" y="206.55" font-size="8.7" fill="#fff" stroke="#fff" stroke-width="0.15" textLength="25.00" lengthAdjust="spacingAndGlyphs" text-anchor="start" >1477.89</text>
<rect x="665.8" y="239.1" width="32.3" height="8.90" fill="#0000ff"/>
<text x="669.40" y="246.65" font-size="8.7" fill="#fff" stroke="#fff" stroke-width="0.15" textLength="25.00" lengthAdjust="spacingAndGlyphs" text-anchor="start" >1463.72</text>
<rect x="665.8" y="276.2" width="32.3" height="8.60" fill="#0000ff"/>
<text x="669.40" y="283.45" font-size="8.7" fill="#fff" stroke="#fff" stroke-width="0.15" textLength="25.00" lengthAdjust="spacingAndGlyphs" text-anchor="start" >1450.74</text>
<rect x="665.8" y="327.5" width="32.3" height="8.50" fill="#0000ff"/>
<text x="669.40" y="334.65" font-size="8.7" fill="#fff" stroke="#fff" stroke-width="0.15" textLength="25.00" lengthAdjust="spacingAndGlyphs" text-anchor="start" >1432.38</text>
<rect x="665.8" y="249.0" width="32.3" height="8.7" fill="#000"/>
<text x="669.40" y="256.30" font-size="8.7" fill="#fff" stroke="#fff" stroke-width="0.15" textLength="25.00" lengthAdjust="spacingAndGlyphs" text-anchor="start" >1460.65</text>
<line x1="665" y1="350.2" x2="667.3" y2="350.2" stroke="#222" stroke-width="0.9"/>
<line x1="665" y1="398.5" x2="667.3" y2="398.5" stroke="#222" stroke-width="0.9"/>
<line x1="665" y1="482.3" x2="667.3" y2="482.3" stroke="#222" stroke-width="0.9"/>
<text x="667.60" y="356.50" font-size="8.7" fill="#1a1a1a" stroke="#1a1a1a" stroke-width="0.15" textLength="17.00" lengthAdjust="spacingAndGlyphs" text-anchor="start" >6.111</text>
<text x="667.30" y="402.10" font-size="8.7" fill="#1a1a1a" stroke="#1a1a1a" stroke-width="0.15" textLength="14.00" lengthAdjust="spacingAndGlyphs" text-anchor="start" >0.00</text>
<text x="667.20" y="481.40" font-size="8.7" fill="#1a1a1a" stroke="#1a1a1a" stroke-width="0.15" textLength="24.40" lengthAdjust="spacingAndGlyphs" text-anchor="start" >-10.504</text>
<line x1="2.50" y1="483.5" x2="2.50" y2="486.3" stroke="#222" stroke-width="0.9"/>
<text x="1.30" y="494.70" font-size="9.1" fill="#1a1a1a" stroke="#1a1a1a" stroke-width="0.15" textLength="41.89" lengthAdjust="spacingAndGlyphs" text-anchor="start" >31 Oct 2019</text>
<line x1="52.38" y1="483.5" x2="52.38" y2="486.3" stroke="#222" stroke-width="0.9"/>
<text x="51.17" y="494.70" font-size="9.1" fill="#1a1a1a" stroke="#1a1a1a" stroke-width="0.15" textLength="41.47" lengthAdjust="spacingAndGlyphs" text-anchor="start" >5 Nov 08:00</text>
<line x1="102.25" y1="483.5" x2="102.25" y2="486.3" stroke="#222" stroke-width="0.9"/>
<text x="101.05" y="494.70" font-size="9.1" fill="#1a1a1a" stroke="#1a1a1a" stroke-width="0.15" textLength="41.47" lengthAdjust="spacingAndGlyphs" text-anchor="start" >8 Nov 00:00</text>
<line x1="152.12" y1="483.5" x2="152.12" y2="486.3" stroke="#222" stroke-width="0.9"/>
<text x="150.93" y="494.70" font-size="9.1" fill="#1a1a1a" stroke="#1a1a1a" stroke-width="0.15" textLength="45.74" lengthAdjust="spacingAndGlyphs" text-anchor="start" >12 Nov 12:00</text>
<line x1="202.00" y1="483.5" x2="202.00" y2="486.3" stroke="#222" stroke-width="0.9"/>
<text x="200.80" y="494.70" font-size="9.1" fill="#1a1a1a" stroke="#1a1a1a" stroke-width="0.15" textLength="45.74" lengthAdjust="spacingAndGlyphs" text-anchor="start" >15 Nov 04:00</text>
<line x1="251.88" y1="483.5" x2="251.88" y2="486.3" stroke="#222" stroke-width="0.9"/>
<text x="250.68" y="494.70" font-size="9.1" fill="#1a1a1a" stroke="#1a1a1a" stroke-width="0.15" textLength="45.74" lengthAdjust="spacingAndGlyphs" text-anchor="start" >19 Nov 16:00</text>
<line x1="301.75" y1="483.5" x2="301.75" y2="486.3" stroke="#222" stroke-width="0.9"/>
<text x="300.55" y="494.70" font-size="9.1" fill="#1a1a1a" stroke="#1a1a1a" stroke-width="0.15" textLength="45.74" lengthAdjust="spacingAndGlyphs" text-anchor="start" >22 Nov 08:00</text>
<line x1="351.62" y1="483.5" x2="351.62" y2="486.3" stroke="#222" stroke-width="0.9"/>
<text x="350.43" y="494.70" font-size="9.1" fill="#1a1a1a" stroke="#1a1a1a" stroke-width="0.15" textLength="45.74" lengthAdjust="spacingAndGlyphs" text-anchor="start" >26 Nov 20:00</text>
<line x1="401.50" y1="483.5" x2="401.50" y2="486.3" stroke="#222" stroke-width="0.9"/>
<text x="400.30" y="494.70" font-size="9.1" fill="#1a1a1a" stroke="#1a1a1a" stroke-width="0.15" textLength="45.74" lengthAdjust="spacingAndGlyphs" text-anchor="start" >29 Nov 12:00</text>
<line x1="451.38" y1="483.5" x2="451.38" y2="486.3" stroke="#222" stroke-width="0.9"/>
<text x="450.18" y="494.70" font-size="9.1" fill="#1a1a1a" stroke="#1a1a1a" stroke-width="0.15" textLength="41.47" lengthAdjust="spacingAndGlyphs" text-anchor="start" >4 Dec 04:00</text>
<line x1="501.25" y1="483.5" x2="501.25" y2="486.3" stroke="#222" stroke-width="0.9"/>
<text x="500.05" y="494.70" font-size="9.1" fill="#1a1a1a" stroke="#1a1a1a" stroke-width="0.15" textLength="41.47" lengthAdjust="spacingAndGlyphs" text-anchor="start" >6 Dec 20:00</text>
<path d="M4.8,46.8 L10.2,46.8 L7.5,49.6 Z" fill="#000"/>
<text x="14.10" y="50.80" font-size="8.7" fill="#111" stroke="#111" stroke-width="0.15" textLength="35.60" lengthAdjust="spacingAndGlyphs" text-anchor="start" >GOLD_,H4</text>
<text x="5.60" y="359.00" font-size="8.7" fill="#111" stroke="#111" stroke-width="0.15" textLength="118.80" lengthAdjust="spacingAndGlyphs" text-anchor="start" >MACD(12,26,9) -2.514 -1.552 -0.962</text>
<rect x="0" y="0" width="700" height="38.6" fill="#0e4465"/>
<rect x="0" y="37.6" width="700" height="1.0" fill="#0a3a58"/>
<text x="193.8" y="25.0" style="font-family:'Liberation Serif',serif" font-size="20.1" fill="#fff" stroke="#fff" stroke-width="0.3" textLength="311" lengthAdjust="spacingAndGlyphs">Chart Analysis for Clients of GCM Asia</text>
</svg>
</body></html>
